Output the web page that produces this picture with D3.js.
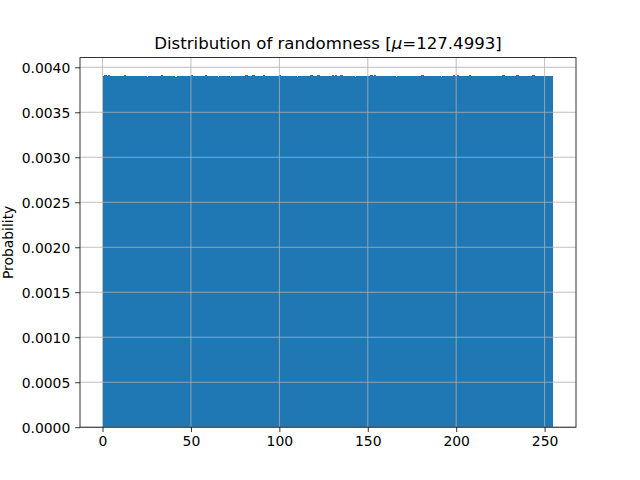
<!DOCTYPE html>
<html>
<head>
<meta charset="utf-8">
<script src="https://cdn.jsdelivr.net/npm/d3@7"></script>
<style>
  html, body { margin: 0; padding: 0; background: #fff; }
  svg { display: block; font-family: "DejaVu Sans", sans-serif; }
</style>
</head>
<body>
<svg id="chart" width="640" height="480"></svg>
<script>
// ---- data ----
const binStart = 0;
const binEnd = 255;
const densities = [
  0.003908,0.003910,0.003906,0.003909,0.003904,0.003907,0.003902,0.003905,0.003908,0.003901,0.003906,0.003903,0.003909,0.003904,0.003907,0.003902,
  0.003900,0.003905,0.003898,0.003903,0.003907,0.003899,0.003904,0.003901,0.003906,0.003897,0.003902,0.003908,0.003900,0.003904,0.003899,0.003905,
  0.003903,0.003909,0.003901,0.003898,0.003904,0.003907,0.003900,0.003905,0.003902,0.003897,0.003903,0.003908,0.003899,0.003904,0.003901,0.003906,
  0.003899,0.003904,0.003910,0.003902,0.003898,0.003905,0.003901,0.003907,0.003900,0.003903,0.003909,0.003898,0.003904,0.003900,0.003906,0.003902,
  0.003901,0.003897,0.003904,0.003899,0.003906,0.003902,0.003908,0.003900,0.003897,0.003903,0.003899,0.003905,0.003901,0.003908,0.003902,0.003898,
  0.003904,0.003909,0.003902,0.003906,0.003900,0.003911,0.003904,0.003899,0.003907,0.003901,0.003905,0.003910,0.003902,0.003898,0.003906,0.003903,
  0.003908,0.003902,0.003905,0.003899,0.003909,0.003903,0.003906,0.003900,0.003904,0.003908,0.003901,0.003905,0.003899,0.003903,0.003897,0.003902,
  0.003906,0.003900,0.003903,0.003898,0.003907,0.003902,0.003909,0.003904,0.003900,0.003906,0.003911,0.003903,0.003908,0.003901,0.003905,0.003899,
  0.003902,0.003907,0.003912,0.003904,0.003909,0.003901,0.003906,0.003910,0.003903,0.003898,0.003905,0.003900,0.003904,0.003899,0.003903,0.003897,
  0.003901,0.003905,0.003899,0.003904,0.003898,0.003902,0.003907,0.003900,0.003909,0.003904,0.003910,0.003906,0.003908,0.003903,0.003907,0.003901,
  0.003898,0.003903,0.003900,0.003905,0.003899,0.003902,0.003897,0.003904,0.003900,0.003906,0.003901,0.003899,0.003905,0.003902,0.003908,0.003903,
  0.003900,0.003906,0.003902,0.003898,0.003904,0.003909,0.003903,0.003907,0.003901,0.003905,0.003900,0.003904,0.003898,0.003903,0.003908,0.003902,
  0.003897,0.003902,0.003899,0.003904,0.003900,0.003906,0.003902,0.003909,0.003904,0.003910,0.003905,0.003908,0.003902,0.003906,0.003900,0.003904,
  0.003909,0.003903,0.003907,0.003901,0.003905,0.003899,0.003904,0.003900,0.003906,0.003902,0.003908,0.003903,0.003907,0.003901,0.003905,0.003900,
  0.003904,0.003899,0.003905,0.003910,0.003903,0.003908,0.003902,0.003906,0.003901,0.003907,0.003903,0.003909,0.003904,0.003900,0.003905,0.003901,
  0.003906,0.003902,0.003908,0.003903,0.003909,0.003904,0.003907,0.003901,0.003905,0.003899,0.003904,0.003900,0.003903,0.003898,0.003902,0.003900
];
const xTicks = [0, 50, 100, 150, 200, 250];
const yTicks = [0, 0.0005, 0.0010, 0.0015, 0.0020, 0.0025, 0.0030, 0.0035, 0.0040];
const titleText = "Distribution of randomness [";
const muText = "μ";
const titleRest = "=127.4993]";
const yLabel = "Probability";

// ---- layout ----
const L = 80, R = 576, T = 57.6, B = 427.2;
const svg = d3.select("#chart");

const nBins = densities.length;
const binW = (binEnd - binStart) / nBins;
const bins = densities.map((d, i) => ({ x0: binStart + i * binW, x1: binStart + (i + 1) * binW, v: d }));

const xPad = (binEnd - binStart) * 0.05;
const x = d3.scaleLinear().domain([binStart - xPad, binEnd + xPad]).range([L, R]);
const yMax = d3.max(densities) * 1.05;
const y = d3.scaleLinear().domain([0, yMax]).range([B, T]);

// bars
svg.append("g").attr("shape-rendering", "crispEdges").selectAll("rect").data(bins).join("rect")
  .attr("x", d => x(d.x0))
  .attr("width", (d, i) => x(d.x1) - x(d.x0) + (i < nBins - 1 ? 0.6 : 0))
  .attr("y", d => y(d.v))
  .attr("height", d => y(0) - y(d.v))
  .attr("fill", "#1f77b4");

// grid (above bars, as matplotlib default)
const grid = svg.append("g").attr("stroke", "#b0b0b0").attr("stroke-width", 0.8);
xTicks.forEach(t => grid.append("line").attr("x1", x(t)).attr("x2", x(t)).attr("y1", T).attr("y2", B));
yTicks.forEach(t => grid.append("line").attr("x1", L).attr("x2", R).attr("y1", y(t)).attr("y2", y(t)));

// axes via d3
const xAxis = d3.axisBottom(x).tickValues(xTicks).tickSize(4.86).tickPadding(4.4).tickFormat(d3.format("d"));
const yAxis = d3.axisLeft(y).tickValues(yTicks).tickSize(4.86).tickPadding(4.86).tickFormat(d3.format(".4f"));

const gx = svg.append("g").attr("transform", `translate(0,${B})`).call(xAxis);
const gy = svg.append("g").attr("transform", `translate(${L},0)`).call(yAxis);
[gx, gy].forEach(g => {
  g.select(".domain").remove();
  g.selectAll(".tick line").attr("stroke", "#000").attr("stroke-width", 0.8);
  g.selectAll(".tick text").attr("fill", "#000").style("font-family", "DejaVu Sans").style("font-size", "13.9px");
});
gy.selectAll(".tick text").attr("dy", "0.36em");

// spines
svg.append("rect").attr("x", L).attr("y", T).attr("width", R - L).attr("height", B - T)
  .attr("fill", "none").attr("stroke", "#000").attr("stroke-width", 0.8);

// title
const title = svg.append("text").attr("x", (L + R) / 2).attr("y", 49.3)
  .attr("text-anchor", "middle").style("font-size", "16.6px").attr("fill", "#000");
title.append("tspan").text(titleText);
title.append("tspan").style("font-style", "italic").text(muText);
title.append("tspan").text(titleRest);

// y label
svg.append("text").attr("transform", `translate(13,${(T + B) / 2}) rotate(-90)`)
  .attr("text-anchor", "middle").style("font-size", "13.9px").attr("fill", "#000").text(yLabel);
</script>
</body>
</html>
